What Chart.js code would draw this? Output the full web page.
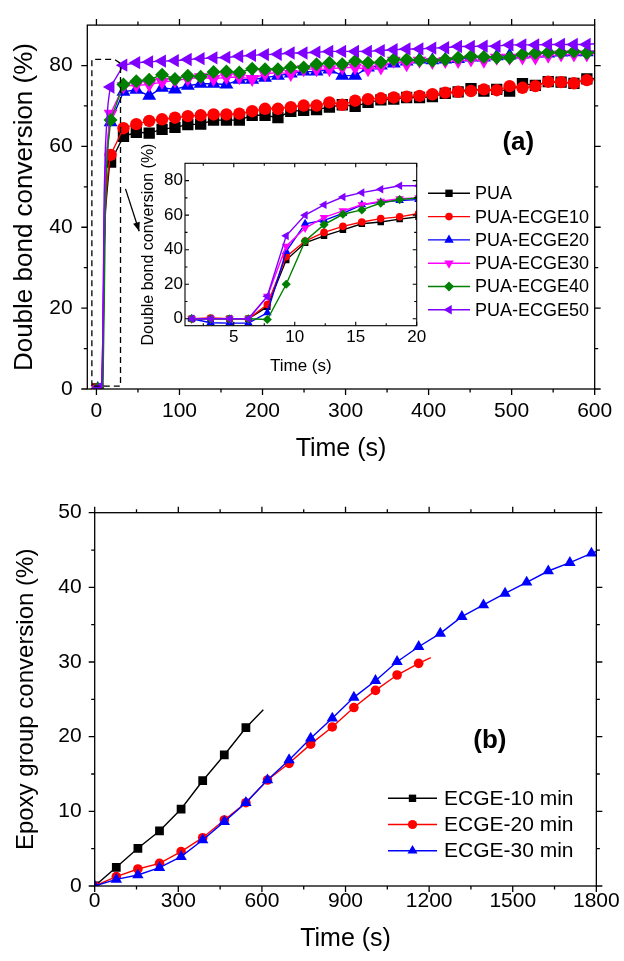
<!DOCTYPE html>
<html><head><meta charset="utf-8">
<script src="https://cdn.jsdelivr.net/npm/chart.js@4.4.1/dist/chart.umd.min.js"></script>
<style>
html,body{margin:0;padding:0;background:#fff;}
#wrap{position:relative;width:624px;height:961px;overflow:hidden;background:#fff;}
canvas{position:absolute;}
#ca{left:0;top:0;}
#ci{left:120px;top:130px;}
#cb{left:0;top:480px;}
</style></head><body>
<div id="wrap">
<canvas id="ca" width="624" height="480"></canvas>
<canvas id="ci" width="310" height="250"></canvas>
<canvas id="cb" width="624" height="481"></canvas>
</div>
<script>
const FONT = "'Liberation Sans', Arial, Helvetica, sans-serif";

// ---------- Panel (a) ----------
const seriesA = ['PUA','PUA-ECGE10','PUA-ECGE20','PUA-ECGE30','PUA-ECGE40','PUA-ECGE50'];
// inset (first 20 s), time in s
const insetTime = [1.55,3.1,4.65,6.2,7.75,9.3,10.85,12.4,13.95,15.5,17.05,18.6,20.15];
const insetPUA  = [0,0,0,0,7,34,44,48,51.5,55,56,57.7,59];
const insetE10  = [0,0.5,0,0,8.3,36,45,50,53.5,56,58,59,61];
const insetE20  = [0,-2.3,-2.5,-2.5,3.5,39,55,57,61,66,67.5,68.5,69];
const insetE30  = [0,0,0,0,13,42,52.5,58.7,62.5,66,68,69.5,70];
const insetE40  = [0,0,0,0,-0.4,20,45,54.5,60.5,63,67,69,70];
const insetE50  = [0,0,0,0,13,48,60,66,70.5,73,75,77,77];
// main plot marker times (s)
const markerTime = [17.05,32.55,48.05,63.55,79.05,94.55,110.05,125.55,141.05,156.55,172.05,187.55,203.05,218.55,234.05,249.55,265.05,280.55,296.05,311.55,327.05,342.55,358.05,373.55,389.05,404.55,420.05,435.55,451.05,466.55,482.05,497.55,513.05,528.55,544.05,559.55,575.05,590.55];
const mainPUA = [56.1,62.5,63.5,63.3,64.2,64.7,65.4,65.5,66.5,66.5,66.5,67.7,67.7,67.1,68.7,68.9,69.1,69.7,70.3,69.9,70.9,71.5,71.7,72.1,72.1,72.3,73.1,73.5,74.3,73.7,74.1,73.7,75.5,75.1,76.0,75.9,75.6,76.7];
const mainE10 = [57.9,64.5,65.5,66.3,66.7,67.1,67.5,67.7,67.9,67.9,68.1,68.7,69.3,69.3,69.7,70.1,70.1,70.9,70.3,71.3,71.7,71.9,72.1,72.3,72.5,72.9,73.3,73.5,73.7,74.1,73.9,74.9,74.5,74.9,76.0,75.9,75.6,76.4];
const mainE20 = [66,73.5,74,72.5,74.5,74.1,75,75.5,75.5,75.3,76.5,76.5,77,77.5,78,78.5,78.5,79,77.5,77.5,79.5,80,80.5,81,81.5,81.3,81.5,81.6,82,82,82.3,82.5,82.7,83,83,83.2,83.3,83.3];
const mainE30 = [68.1,74.9,75.1,75.3,75.9,76.3,76.7,77.1,76.7,77.1,77.1,76.7,77.9,78.3,77.9,79.1,79.1,79.1,79.5,79.5,79.1,79.5,81.2,80.3,81.2,80.9,81.1,81.1,81.5,81.2,81.9,81.9,82.0,82.0,82.4,82.7,82.7,82.7];
const mainE40 = [66.5,75.3,76.1,76.5,77.7,76.7,77.5,77.2,78.4,78.5,78.3,79.2,79.1,79.1,79.6,79.5,80.3,80.7,80.3,81.1,80.7,80.8,81.5,81.5,81.3,81.2,81.5,81.9,82.3,82.1,82.0,82.0,82.8,83.1,83.3,83.2,83.5,83.1];
const mainE50 = [74.7,80.1,80.7,80.9,81.1,81.2,81.5,81.7,81.9,82.0,82.3,82.5,82.7,82.8,83.1,83.1,83.3,83.5,83.5,83.5,83.5,83.7,83.9,84.1,84.1,84.3,84.4,84.7,84.7,84.8,84.8,85.1,85.1,85.1,85.2,85.2,85.2,85.2];
const endTimeA = 600;
const endValA = [76.8,76.5,83.6,82.9,83.3,85.4];
// ticks
const xTicksA = [0,100,200,300,400,500,600];
const xMinorA = [50,150,250,350,450,550];
const yTicksA = [0,20,40,60,80];
const yMinorA = [10,30,50,70];
const xTicksI = [5,10,15,20];
const xMinorI = [2.5,7.5,12.5,17.5];
const yTicksI = [0,20,40,60,80];
const yMinorI = [10,30,50,70];
// zoom box (data units) and arrow
const zoomBox = {x0:-5.5, x1:29, y0:0.7, y1:81.5};
const arrowA = {x0:35, y0:49.5, x1:51.5, y1:39};

// ---------- Panel (b) ----------
const seriesB = ['ECGE-10 min','ECGE-20 min','ECGE-30 min'];
const timeB = [0,77.5,155,232.5,310,387.5,465,542.5,620,697.5,775,852.5,930,1007.5,1085,1162.5,1240,1317.5,1395,1472.5,1550,1627.5,1705,1782.5];
const ecge10 = [0,2.5,5.05,7.37,10.31,14.1,17.55,21.2];
const ecge20 = [0,1.25,2.28,3.04,4.6,6.47,8.84,11.16,14.2,16.43,19.0,21.3,23.9,26.2,28.26,29.82];
const ecge30 = [0,0.89,1.47,2.46,3.93,6.16,8.62,11.16,14.2,16.88,19.78,22.46,25.27,27.5,30.04,32.05,33.84,36.07,37.64,39.2,40.68,42.19,43.3,44.56];
const endTimeB = [605,1206,1800];
const endValB = [23.6,30.6,44.8];
const xTicksB = [0,300,600,900,1200,1500,1800];
const xMinorB = [150,450,750,1050,1350,1650];
const yTicksB = [0,10,20,30,40,50];
const yMinorB = [5,15,25,35,45];

// ---------- styles ----------
const styleA = [
  {color:'#000000', ps:'rect',     rot:0,   r:8.0, ri:4.6, rl:5.2},
  {color:'#FF0000', ps:'circle',   rot:0,   r:6.2, ri:3.8, rl:3.8},
  {color:'#0000FF', ps:'triangle', rot:0,   r:8.0, ri:5.0, rl:5.5},
  {color:'#FF00FF', ps:'triangle', rot:180, r:8.0, ri:5.0, rl:5.5},
  {color:'#008000', ps:'rectRot',  rot:0,   r:7.0, ri:4.6, rl:5.0},
  {color:'#8000FF', ps:'triangle', rot:270, r:7.7, ri:5.0, rl:5.5}
];
const styleB = [
  {color:'#000000', ps:'rect',     rot:0, r:6.2, rl:5.2},
  {color:'#FF0000', ps:'circle',   rot:0, r:4.8, rl:4.6},
  {color:'#0000FF', ps:'triangle', rot:0, r:6.6, rl:5.8}
];

function drawMarker(ctx, ps, rot, r, x, y) {
  ctx.beginPath();
  if (ps === 'circle') { ctx.arc(x, y, r, 0, Math.PI*2); }
  else {
    let rad = rot*Math.PI/180, n;
    if (ps === 'rect') { rad += Math.PI/4; n = 4; }
    else if (ps === 'rectRot') { n = 4; }
    else { n = 3; }
    for (let k = 0; k < n; k++) {
      const a = rad + k*2*Math.PI/n;
      const px = x + Math.sin(a)*r, py = y - Math.cos(a)*r;
      if (k === 0) ctx.moveTo(px, py); else ctx.lineTo(px, py);
    }
    ctx.closePath();
  }
  ctx.fill();
}

const frameTicks = {
  id: 'frameTicks',
  afterDatasetsDraw(chart, args, o) {
    const {ctx, chartArea: a, scales: {x, y}} = chart;
    const d = o.inward ? -1 : 1;
    ctx.save();
    ctx.strokeStyle = '#000';
    ctx.lineWidth = o.lw;
    ctx.beginPath();
    const tx = (vals, len) => vals.forEach(v => {
      const p = x.getPixelForValue(v);
      ctx.moveTo(p, a.bottom); ctx.lineTo(p, a.bottom + d*len);
      ctx.moveTo(p, a.top); ctx.lineTo(p, a.top - d*len);
    });
    const ty = (vals, len) => vals.forEach(v => {
      const p = y.getPixelForValue(v);
      ctx.moveTo(a.left, p); ctx.lineTo(a.left - d*len, p);
      ctx.moveTo(a.right, p); ctx.lineTo(a.right + d*len, p);
    });
    tx(o.xMajor, o.major); tx(o.xMinor, o.minor);
    ty(o.yMajor, o.major); ty(o.yMinor, o.minor);
    ctx.stroke();
    ctx.strokeRect(a.left, a.top, a.right - a.left, a.bottom - a.top);
    ctx.restore();
  }
};

const extras = {
  id: 'extras',
  afterDraw(chart, args, o) {
    const {ctx, scales: {x, y}} = chart;
    ctx.save();
    if (o.legend) {
      const L = o.legend;
      ctx.font = L.fs + 'px ' + FONT;
      ctx.textBaseline = 'middle';
      ctx.textAlign = 'left';
      chart.data.datasets.forEach((ds, i) => {
        const yy = L.y + i*L.dy;
        ctx.strokeStyle = ds.borderColor; ctx.lineWidth = 1.4;
        ctx.beginPath(); ctx.moveTo(L.x0, yy); ctx.lineTo(L.x1, yy); ctx.stroke();
        ctx.fillStyle = ds.borderColor;
        drawMarker(ctx, ds.pointStyle, ds.pointRotation, ds.legendR, (L.x0 + L.x1)/2, yy);
        ctx.fillStyle = '#000';
        ctx.fillText(ds.label, L.tx, yy + 1);
      });
    }
    if (o.tag) {
      ctx.font = 'bold ' + o.tag.fs + 'px ' + FONT;
      ctx.textAlign = 'center'; ctx.textBaseline = 'middle'; ctx.fillStyle = '#000';
      ctx.fillText(o.tag.text, x.getPixelForValue(o.tag.x), y.getPixelForValue(o.tag.y));
    }
    if (o.box) {
      const b = o.box;
      ctx.strokeStyle = '#000'; ctx.lineWidth = 1.3; ctx.setLineDash([6, 4]);
      const X0 = x.getPixelForValue(b.x0), X1 = x.getPixelForValue(b.x1);
      const Y0 = y.getPixelForValue(b.y0), Y1 = y.getPixelForValue(b.y1);
      ctx.beginPath();
      ctx.moveTo(X0, Y0); ctx.lineTo(X0, Y1); ctx.lineTo(X1 - 6, Y1); ctx.lineTo(X1, Y1 + 4); ctx.lineTo(X1, Y0); ctx.closePath();
      ctx.stroke();
      ctx.setLineDash([]);
    }
    if (o.arrow) {
      const r = o.arrow;
      const ax = x.getPixelForValue(r.x0), ay = y.getPixelForValue(r.y0);
      const bx = x.getPixelForValue(r.x1), by = y.getPixelForValue(r.y1);
      ctx.strokeStyle = '#000'; ctx.fillStyle = '#000'; ctx.lineWidth = 1.3;
      ctx.beginPath(); ctx.moveTo(ax, ay); ctx.lineTo(bx, by); ctx.stroke();
      const ang = Math.atan2(by - ay, bx - ax), h = 9, w = 3.5;
      ctx.beginPath();
      ctx.moveTo(bx, by);
      ctx.lineTo(bx - h*Math.cos(ang) + w*Math.sin(ang), by - h*Math.sin(ang) - w*Math.cos(ang));
      ctx.lineTo(bx - h*Math.cos(ang) - w*Math.sin(ang), by - h*Math.sin(ang) + w*Math.cos(ang));
      ctx.closePath(); ctx.fill();
    }
    ctx.restore();
  }
};

function scale(o) {
  return {
    type: 'linear', min: o.min, max: o.max,
    afterBuildTicks: s => { s.ticks = o.ticks.map(v => ({value: v})); },
    afterFit: s => { if (o.width != null) s.width = o.width; if (o.height != null) s.height = o.height; },
    grid: {display: false, drawTicks: false},
    border: {display: false},
    ticks: {color: '#000', font: {family: FONT, size: o.fs, lineHeight: 1}, padding: o.pad,
            maxRotation: 0, autoSkip: false, callback: v => String(v)},
    title: {display: true, text: o.title, color: '#000',
            font: {family: FONT, size: o.ts, lineHeight: 1}, padding: o.tpad}
  };
}

function baseOptions(extra) {
  return Object.assign({
    responsive: false, animation: false, devicePixelRatio: 1,
    events: [],
    elements: {line: {tension: 0}},
  }, extra);
}

// ----- Chart (a) main -----
const insetVals = [insetPUA, insetE10, insetE20, insetE30, insetE40, insetE50];
const mainVals = [mainPUA, mainE10, mainE20, mainE30, mainE40, mainE50];
const nPre = 10;
const dsA = seriesA.map((name, s) => {
  const st = styleA[s];
  const pts = insetTime.slice(0, nPre).map((t, i) => ({x: t, y: insetVals[s][i]}))
    .concat(markerTime.map((t, i) => ({x: t, y: mainVals[s][i]})))
    .concat([{x: endTimeA, y: endValA[s]}]);
  const radius = pts.map((p, i) => (i === 0 || (i >= nPre && i < nPre + markerTime.length)) ? st.r : 0);
  return {
    label: name, data: pts, borderColor: st.color, backgroundColor: st.color,
    borderWidth: 1.4, pointStyle: st.ps, pointRotation: st.rot, pointRadius: radius,
    pointBackgroundColor: st.color, pointBorderColor: st.color, pointBorderWidth: 0,
    legendR: st.rl, order: 10 - s
  };
});

new Chart(document.getElementById('ca'), {
  type: 'line',
  data: {datasets: dsA},
  options: baseOptions({
    layout: {padding: {top: 13.3, right: 24, left: 0, bottom: 0}},
    scales: {
      x: scale({min: -11, max: 600, ticks: xTicksA, fs: 21, pad: 11.8, title: 'Time (s)', ts: 25,
                tpad: {top: 0, bottom: 18.5}, height: 91}),
      y: scale({min: 0, max: 90, ticks: yTicksA, fs: 21, pad: 14.6, title: 'Double bond conversion (%)', ts: 26,
                tpad: {top: 12, bottom: 0}, width: 87.3})
    },
    plugins: {
      legend: {display: false}, tooltip: {enabled: false},
      frameTicks: {lw: 1.3, major: 6, minor: 3.5, inward: false,
                   xMajor: xTicksA, xMinor: xMinorA, yMajor: yTicksA, yMinor: yMinorA},
      extras: {legend: {x0: 428, x1: 470, tx: 475, y: 193.3, dy: 23.3, fs: 18},
               tag: {text: '(a)', x: 508, y: 60.8, fs: 26},
               box: zoomBox, arrow: arrowA}
    }
  }),
  plugins: [frameTicks, extras]
});

// ----- Chart (a) inset -----
const dsI = seriesA.map((name, s) => {
  const st = styleA[s];
  return {
    label: name, data: insetTime.map((t, i) => ({x: t, y: insetVals[s][i]})),
    borderColor: st.color, backgroundColor: st.color, borderWidth: 1.4,
    pointStyle: st.ps, pointRotation: st.rot, pointRadius: st.ri,
    pointBackgroundColor: st.color, pointBorderColor: st.color, pointBorderWidth: 0,
    order: 10 - s
  };
});
new Chart(document.getElementById('ci'), {
  type: 'line',
  data: {datasets: dsI},
  options: baseOptions({
    layout: {padding: {top: 33.3, right: 13.3, left: 0, bottom: 0}},
    scales: {
      x: scale({min: 1, max: 20, ticks: xTicksI, fs: 17, pad: 3.3, title: 'Time (s)', ts: 17,
                tpad: {top: 0, bottom: 5.5}, height: 54.3}),
      y: scale({min: -4, max: 90, ticks: yTicksI, fs: 17, pad: 2, title: 'Double bond conversion (%)', ts: 16,
                tpad: {top: 20.5, bottom: 0}, width: 65})
    },
    plugins: {
      legend: {display: false}, tooltip: {enabled: false},
      frameTicks: {lw: 1.1, major: 4, minor: 2.5, inward: true,
                   xMajor: xTicksI, xMinor: xMinorI, yMajor: yTicksI, yMinor: yMinorI},
      extras: {}
    }
  }),
  plugins: [frameTicks]
});

// ----- Chart (b) -----
const valsB = [ecge10, ecge20, ecge30];
const dsB = seriesB.map((name, s) => {
  const st = styleB[s];
  const pts = valsB[s].map((v, i) => ({x: timeB[i], y: v})).concat([{x: endTimeB[s], y: endValB[s]}]);
  const radius = pts.map((p, i) => i < valsB[s].length ? st.r : 0);
  return {
    label: name, data: pts, borderColor: st.color, backgroundColor: st.color, borderWidth: 1.4,
    pointStyle: st.ps, pointRotation: st.rot, pointRadius: radius,
    pointBackgroundColor: st.color, pointBorderColor: st.color, pointBorderWidth: 0,
    legendR: st.rl, order: 10 - s
  };
});
new Chart(document.getElementById('cb'), {
  type: 'line',
  data: {datasets: dsB},
  options: baseOptions({
    layout: {padding: {top: 32.7, right: 23.3, left: 0, bottom: 0}},
    scales: {
      x: scale({min: 0, max: 1800, ticks: xTicksB, fs: 21, pad: 4.3, title: 'Time (s)', ts: 25,
                tpad: {top: 0, bottom: 9}, height: 75}),
      y: scale({min: 0, max: 50, ticks: yTicksB, fs: 21, pad: 13, title: 'Epoxy group conversion (%)', ts: 24,
                tpad: {top: 14.7, bottom: 0}, width: 94.7})
    },
    plugins: {
      legend: {display: false}, tooltip: {enabled: false},
      frameTicks: {lw: 1.3, major: 6, minor: 3.5, inward: false,
                   xMajor: xTicksB, xMinor: xMinorB, yMajor: yTicksB, yMinor: yMinorB},
      extras: {legend: {x0: 388, x1: 437, tx: 444, y: 318.3, dy: 26.2, fs: 21},
               tag: {text: '(b)', x: 1418, y: 19.5, fs: 26}}
    }
  }),
  plugins: [frameTicks, extras]
});
</script>
</body></html>
